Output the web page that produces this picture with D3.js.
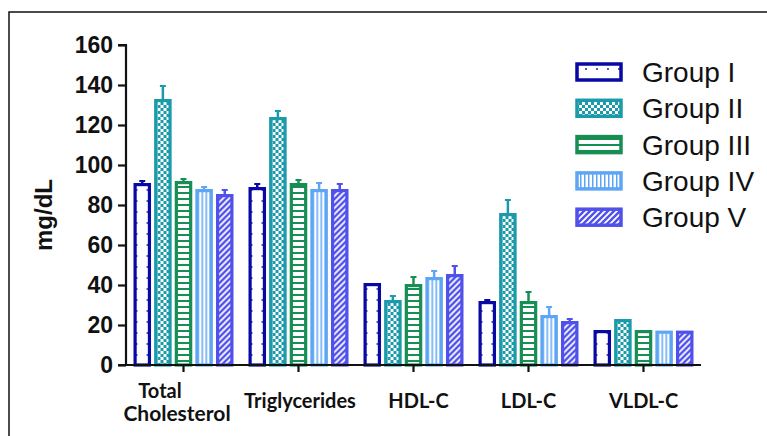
<!DOCTYPE html>
<html><head><meta charset="utf-8">
<script src="https://cdn.jsdelivr.net/npm/d3@7"></script>
<style>body{margin:0;background:#fff}svg{display:block}</style>
</head><body>
<script>
const categories = ["Total Cholesterol","Triglycerides","HDL-C","LDL-C","VLDL-C"];
const groups = ["Group I","Group II","Group III","Group IV","Group V"];
const groupI   = [91, 89, 41, 32, 17.5];
const groupII  = [133, 124, 32.5, 76, 23];
const groupIII = [92, 91, 40.5, 32, 17.5];
const groupIV  = [88, 88, 44, 25, 17.2];
const groupV   = [85.5, 88, 45.5, 22, 17.2];
const errI   = [1, 1.5, 0, 0.5, 0];
const errII  = [6.5, 3, 2, 6.5, 0];
const errIII = [1, 1.5, 3.5, 4.5, 0];
const errIV  = [1, 3, 3, 4, 0];
const errV   = [2, 2.5, 4, 1, 0];
const yTicks = [0,20,40,60,80,100,120,140,160];
const colors = ["#0808a4","#1a9aaa","#168e54","#5ea6f5","#5050ea"];

const series = [groupI,groupII,groupIII,groupIV,groupV];
const errs = [errI,errII,errIII,errIV,errV];

const W=767,H=436;
const svg=d3.select("body").append("svg").attr("width",W).attr("height",H);
svg.append("rect").attr("x",9).attr("y",12).attr("width",800).attr("height",500)
  .attr("fill","none").attr("stroke","#111").attr("stroke-width",1.5);

// patterns
const defs=svg.append("defs");
function pat(id,w,h,draw){const p=defs.append("pattern").attr("id",id).attr("patternUnits","userSpaceOnUse").attr("width",w).attr("height",h);p.append("rect").attr("width",w).attr("height",h).attr("fill","#fff");draw(p);}
pat("p0",11,11,p=>{p.append("circle").attr("cx",3).attr("cy",3).attr("r",0.9).attr("fill",colors[0]);});
pat("p1",6,6,p=>{p.append("rect").attr("width",6).attr("height",6).attr("fill",colors[1]);p.append("rect").attr("x",0).attr("y",0).attr("width",3).attr("height",3).attr("fill","#fff");p.append("rect").attr("x",3).attr("y",3).attr("width",3).attr("height",3).attr("fill","#fff");});
pat("p2",6,6,p=>{p.append("rect").attr("width",6).attr("height",2).attr("fill",colors[2]);});
pat("p3",4,6,p=>{p.append("rect").attr("x",0).attr("width",1.5).attr("height",6).attr("fill",colors[3]);});
pat("p4",6,6,p=>{p.append("rect").attr("width",6).attr("height",6).attr("fill",colors[4]);p.append("path").attr("d","M-1,7 L7,-1 M-1,1 L1,-1 M5,7 L7,5").attr("stroke","#fff").attr("stroke-width",1.8);});

const x0=d3.scaleBand().domain(categories).range([126,701]).padding(0);
const x1=d3.scaleBand().domain(groups).range([0,100]).paddingInner(0.15).paddingOuter(0);
const y=d3.scaleLinear().domain([0,160]).range([365,45]);

const off=(x0.bandwidth()-100)/2;
categories.forEach((c,ci)=>{
  const g=svg.append("g").attr("transform",`translate(${x0(c)+off},0)`);
  groups.forEach((gr,gi)=>{
    const v=series[gi][ci], e=errs[gi][ci];
    const bx=x1(gr), bw=x1.bandwidth(), cx=bx+bw/2;
    if(e>0){
      g.append("line").attr("x1",cx).attr("x2",cx).attr("y1",y(v)).attr("y2",y(v+e)).attr("stroke",colors[gi]).attr("stroke-width",2.5);
      g.append("line").attr("x1",cx-3).attr("x2",cx+3).attr("y1",y(v+e)).attr("y2",y(v+e)).attr("stroke",colors[gi]).attr("stroke-width",2);
    }
    g.append("rect").attr("x",bx+1.6).attr("y",y(v)+1.6).attr("width",bw-3.2).attr("height",y(0)-y(v)-1.6)
      .attr("fill",`url(#p${gi})`).attr("stroke",colors[gi]).attr("stroke-width",3.2);
  });
});

// axes
const ya=svg.append("g").attr("transform","translate(126,0)").call(d3.axisLeft(y).tickValues(yTicks).tickSize(8).tickPadding(5));
ya.select(".domain").attr("stroke","#111").attr("stroke-width",2.2).attr("d","M-8,45H0V365");
ya.selectAll(".tick line").attr("stroke","#111").attr("stroke-width",2.2);
ya.selectAll(".tick text").attr("font-family","Liberation Sans, Arial, sans-serif").attr("font-weight","bold").attr("font-size",23).attr("fill","#111");

const xa=svg.append("g").attr("transform","translate(0,365)").call(d3.axisBottom(x0).tickSize(7).tickFormat(""));
xa.select(".domain").attr("stroke","#111").attr("stroke-width",2.2).attr("d","M118,0H701");
xa.selectAll(".tick line").attr("stroke","#111").attr("stroke-width",2.2);

const labFont="Lato, 'Open Sans', sans-serif";
const labelLines={"Total Cholesterol":["Total","Cholesterol"]};
categories.forEach(c=>{
  const lines=labelLines[c]||[c];
  const t=svg.append("text").attr("text-anchor","middle").attr("font-family",labFont).attr("font-weight","bold").attr("font-size",20).attr("fill","#111");
  const cx = c==="Total Cholesterol"?177:(c==="Triglycerides"?300:x0(c)+x0.bandwidth()/2+ (c==="HDL-C"?5:0));
  if(lines.length===2){
    t.append("tspan").attr("x",c==="Total Cholesterol"?160:cx).attr("y",398).text(lines[0]);
    t.append("tspan").attr("x",cx).attr("y",421).attr("font-size",21).text(lines[1]);
  } else {
    t.append("tspan").attr("x",cx).attr("y",408).text(lines[0]);
  }
});

svg.append("text").attr("transform","translate(52,215) rotate(-90)").attr("text-anchor","middle")
  .attr("font-family","Liberation Sans, Arial, sans-serif").attr("font-weight","bold").attr("font-size",24).attr("fill","#111").text("mg/dL");

// legend
const leg=svg.append("g");
groups.forEach((gr,i)=>{
  const yy=72+i*36.3;
  leg.append("rect").attr("x",577).attr("y",yy-8).attr("width",44).attr("height",16)
    .attr("fill",`url(#p${i})`).attr("stroke",colors[i]).attr("stroke-width",3.5);
  leg.append("text").attr("x",642).attr("y",yy+10).attr("font-family","Liberation Sans, Arial, sans-serif").attr("font-size",28).attr("fill","#111").text(gr);
});
</script>
</body></html>
